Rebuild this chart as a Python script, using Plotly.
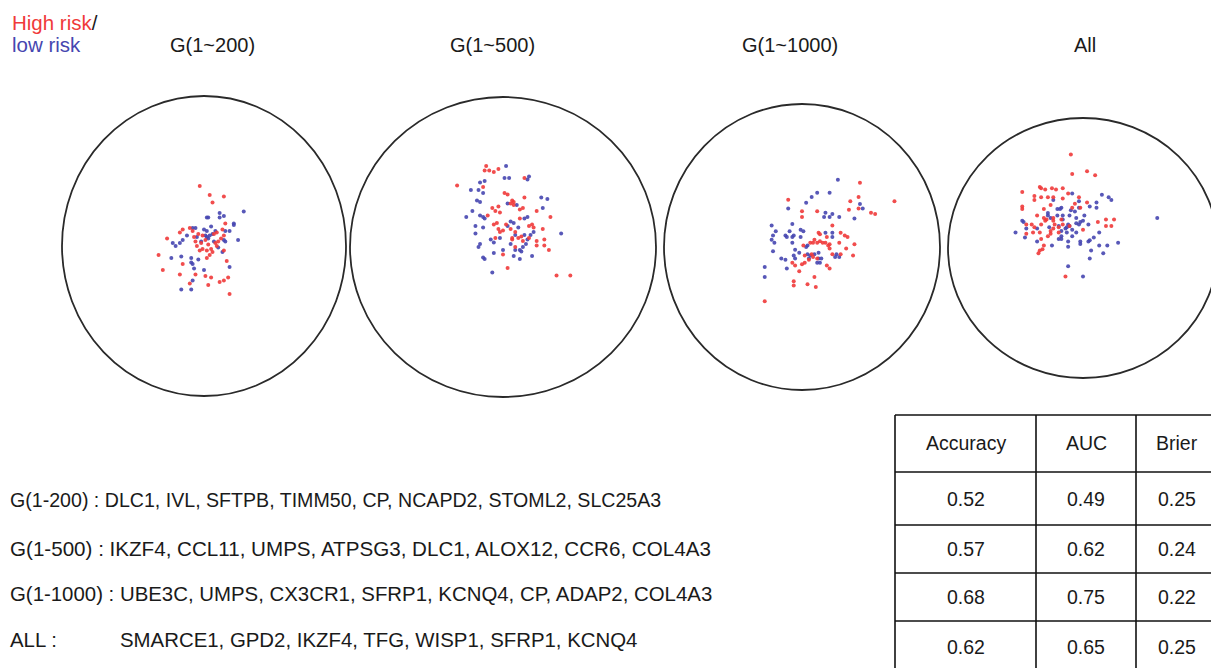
import plotly.graph_objects as go

# ---------------- data ----------------
panel_titles = ["G(1~200)", "G(1~500)", "G(1~1000)", "All"]

# normalised coordinates inside each circle (circle radius = 1)
p1_high_x = [-0.03,0.04,0.14,0.06,-0.26,-0.32,-0.29,-0.15,-0.17,-0.10,-0.06,0.01,0.05,0.03,0.11,0.14,0.17,0.18,0.16,0.02,-0.15,-0.10,-0.08,-0.07,-0.06,-0.05,-0.03,-0.01,-0.02,0.01,0.03,0.05,0.02,0.06,0.07,0.09,0.12,0.14,0.13,0.15,0.10,0.09,0.08,0.14,-0.01,-0.04,-0.17,0.04]
p1_high_y = [0.40,0.34,0.33,0.29,0.05,-0.06,-0.16,-0.12,-0.19,-0.25,-0.19,-0.20,-0.21,-0.26,-0.24,-0.23,-0.21,-0.32,-0.10,-0.08,0.11,0.12,0.10,0.06,0.03,0.00,-0.03,-0.02,0.02,0.04,0.01,-0.02,-0.03,-0.04,0.08,0.09,0.05,0.07,0.11,0.15,0.03,0.00,0.02,-0.03,0.07,0.08,0.09,-0.06]
p1_low_x = [0.28,0.11,0.14,0.11,0.02,0.03,0.05,0.21,0.21,0.00,-0.08,-0.06,0.01,0.02,0.03,0.04,0.06,0.08,0.15,0.18,0.14,0.15,0.24,-0.22,-0.20,-0.17,-0.15,-0.23,-0.16,-0.09,-0.09,-0.08,-0.04,-0.07,0.00,0.18,-0.08,-0.16,-0.09,0.10,0.13,0.07,-0.02,-0.05,-0.12,0.02]
p1_low_y = [0.23,0.22,0.20,0.19,0.19,0.19,0.13,0.15,0.14,0.11,0.12,0.12,0.07,0.06,0.05,0.07,0.08,0.10,0.10,0.10,0.04,0.03,0.04,0.02,0.00,0.02,0.04,-0.08,-0.07,-0.08,-0.11,-0.12,-0.09,-0.15,-0.16,-0.14,-0.23,-0.29,-0.29,-0.01,-0.04,0.03,0.03,0.06,0.07,0.10]

p2_high_x = [-0.11,-0.12,-0.09,-0.06,-0.03,-0.30,-0.13,0.14,0.01,0.03,0.14,0.06,0.07,0.05,0.07,-0.03,-0.07,-0.05,-0.02,0.11,0.13,0.22,-0.10,0.31,0.11,-0.04,-0.06,0.02,-0.03,-0.02,0.00,0.05,0.08,0.17,0.19,0.20,0.26,0.06,0.06,0.10,0.12,0.08,0.13,0.17,0.22,0.27,0.22,0.27,0.30,-0.05,0.00,0.03,0.35,0.44]
p2_high_y = [0.54,0.51,0.51,0.50,0.52,0.41,0.40,0.46,0.36,0.35,0.33,0.31,0.30,0.29,0.28,0.27,0.26,0.24,0.23,0.25,0.26,0.24,0.21,0.20,0.19,0.16,0.15,0.15,0.12,0.10,0.11,0.12,0.10,0.14,0.15,0.13,0.12,0.06,0.05,0.06,0.07,0.00,0.04,0.06,0.04,0.05,0.01,0.01,-0.02,0.06,-0.05,-0.14,-0.19,-0.19]
p2_low_x = [0.02,0.01,0.04,0.16,0.17,-0.15,-0.12,-0.21,-0.16,-0.13,-0.17,-0.15,0.03,0.09,0.25,0.29,0.26,-0.20,-0.24,-0.15,-0.13,-0.12,0.05,0.07,0.14,0.16,-0.18,-0.13,0.03,0.10,0.20,0.18,-0.18,-0.08,-0.06,-0.02,0.08,0.14,0.16,0.15,0.13,0.12,0.11,-0.15,-0.16,0.05,0.08,0.00,-0.06,0.07,0.11,0.19,0.38,-0.13,-0.12,-0.07]
p2_low_y = [0.54,0.46,0.46,0.45,0.47,0.43,0.44,0.38,0.38,0.36,0.31,0.30,0.29,0.28,0.33,0.32,0.26,0.24,0.20,0.21,0.20,0.19,0.17,0.16,0.19,0.20,0.14,0.13,0.14,0.13,0.10,0.08,0.09,0.05,0.03,0.06,0.08,0.08,0.05,0.02,0.00,-0.03,-0.02,0.02,0.00,0.02,-0.02,-0.02,-0.04,-0.06,-0.08,-0.06,0.09,-0.07,-0.08,-0.17]

p3_high_x = [0.42,0.35,0.41,0.41,0.67,0.50,0.53,0.34,-0.10,0.00,0.00,0.11,0.22,0.12,0.13,0.09,0.06,0.08,0.11,0.13,0.15,0.17,0.19,0.20,0.18,0.28,0.31,0.33,0.27,0.38,0.32,0.20,0.22,0.28,0.37,0.01,0.02,0.07,0.08,0.11,0.05,0.02,0.00,-0.07,-0.05,0.18,0.20,-0.02,0.09,-0.06,-0.06,0.04,0.10,-0.27]
p3_high_y = [0.45,0.32,0.35,0.27,0.32,0.24,0.23,0.26,0.33,0.25,0.21,0.25,0.15,0.10,0.09,0.05,0.03,0.03,0.03,0.04,0.03,0.03,0.01,0.02,0.07,0.10,0.08,0.07,0.03,0.02,-0.01,-0.01,-0.05,-0.05,-0.06,0.01,-0.06,-0.05,-0.07,-0.08,-0.09,-0.11,-0.12,-0.11,-0.13,-0.13,-0.15,-0.17,-0.21,-0.24,-0.27,-0.26,-0.28,-0.38]
p3_low_x = [0.26,0.20,0.11,0.07,0.03,-0.10,0.42,0.44,0.17,0.22,0.16,0.20,0.27,0.38,-0.07,-0.22,-0.19,-0.09,-0.01,0.01,-0.21,-0.12,-0.11,-0.07,-0.06,-0.01,0.17,0.22,0.22,-0.22,-0.20,-0.07,-0.05,-0.02,-0.21,0.04,0.03,0.04,0.06,0.09,0.12,0.05,0.12,0.14,-0.06,-0.05,0.25,0.27,0.24,-0.15,-0.12,-0.11,-0.27,-0.27,0.11,0.13]
p3_low_y = [0.47,0.38,0.38,0.35,0.31,0.27,0.30,0.27,0.24,0.23,0.21,0.21,0.21,0.20,0.16,0.15,0.11,0.11,0.12,0.11,0.08,0.08,0.07,0.07,0.08,0.07,0.10,0.10,0.07,0.05,0.03,0.03,-0.02,-0.04,-0.03,0.01,0.00,-0.05,-0.06,-0.05,-0.04,-0.08,-0.08,-0.08,-0.06,-0.08,-0.05,-0.07,-0.07,-0.08,-0.09,-0.15,-0.14,-0.21,-0.11,-0.11]

p4_high_x = [-0.09,-0.08,0.03,0.09,-0.45,-0.32,-0.31,-0.28,-0.23,-0.20,-0.15,-0.36,-0.36,-0.31,-0.26,-0.22,-0.15,-0.11,-0.03,-0.06,0.03,-0.45,-0.45,-0.29,-0.24,-0.34,-0.29,-0.27,-0.22,-0.16,-0.08,-0.02,-0.42,-0.38,-0.36,-0.31,-0.28,-0.22,-0.21,-0.18,-0.22,-0.24,-0.18,-0.15,-0.10,0.00,0.11,0.17,0.23,0.17,0.21,-0.42,-0.37,-0.32,-0.26,-0.24,-0.31,-0.29,-0.30,-0.32,-0.33,-0.13]
p4_high_y = [0.72,0.57,0.59,0.56,0.43,0.47,0.46,0.45,0.46,0.45,0.46,0.40,0.37,0.39,0.39,0.39,0.38,0.42,0.39,0.34,0.35,0.32,0.30,0.30,0.33,0.25,0.23,0.22,0.23,0.22,0.31,0.31,0.18,0.18,0.16,0.18,0.21,0.21,0.18,0.16,0.15,0.13,0.12,0.18,0.17,0.14,0.20,0.22,0.22,0.17,0.17,0.11,0.12,0.12,0.09,0.11,0.07,0.02,-0.01,-0.02,-0.04,-0.22]
p4_low_x = [-0.08,-0.22,-0.03,-0.03,0.10,0.05,0.10,0.14,0.19,0.21,-0.19,-0.17,-0.16,-0.09,-0.06,-0.10,-0.26,-0.26,-0.24,-0.19,-0.15,-0.15,-0.05,0.01,-0.02,-0.05,-0.03,0.00,0.04,-0.11,-0.10,-0.12,-0.13,-0.08,-0.45,-0.44,-0.50,-0.42,-0.34,-0.25,-0.18,-0.16,-0.12,-0.16,-0.08,-0.05,0.12,0.08,-0.43,-0.34,-0.18,-0.16,-0.11,-0.02,0.04,0.05,-0.23,-0.11,-0.02,0.06,0.12,0.18,0.26,0.15,0.55,0.05,-0.11,0.00]
p4_low_y = [0.42,0.37,0.36,0.31,0.35,0.32,0.31,0.41,0.39,0.37,0.30,0.30,0.31,0.29,0.28,0.25,0.27,0.25,0.23,0.25,0.25,0.22,0.23,0.25,0.20,0.19,0.18,0.21,0.18,0.18,0.17,0.16,0.15,0.14,0.21,0.20,0.12,0.15,0.15,0.16,0.17,0.13,0.12,0.09,0.09,0.12,0.12,0.08,0.08,0.05,0.07,0.07,0.05,0.05,0.05,0.06,0.02,0.01,0.03,-0.02,0.02,0.02,0.04,-0.04,0.23,-0.08,-0.14,-0.22]

gene_set_labels = ["G(1-200) :", "G(1-500) :", "G(1-1000) :", "ALL :"]
gene_lists = [
    "DLC1, IVL, SFTPB, TIMM50, CP, NCAPD2, STOML2, SLC25A3",
    "IKZF4, CCL11, UMPS, ATPSG3, DLC1, ALOX12, CCR6, COL4A3",
    "UBE3C, UMPS, CX3CR1, SFRP1, KCNQ4, CP, ADAP2, COL4A3",
    "SMARCE1, GPD2, IKZF4, TFG, WISP1, SFRP1, KCNQ4",
]

table_header = ["Accuracy", "AUC", "Brier"]
accuracy = ["0.52", "0.57", "0.68", "0.62"]
auc = ["0.49", "0.62", "0.75", "0.65"]
brier = ["0.25", "0.24", "0.22", "0.25"]

# ---------------- layout constants ----------------
OFF = 8                      # page body margin of the browser
W, H = 1219 - OFF, 668 - OFF
FONT = "Liberation Sans, Arial, Helvetica, sans-serif"
TXT = "#1a1a1a"
RED = "#f03a3a"
BLUE = "#4646b0"
# circle centre / radii in page pixels (cx, cy, rx, ry)
circles = [(204, 246, 142, 150), (503, 247, 153, 150), (802, 247, 138, 143), (1083, 248, 135, 130)]
title_x = [212, 492, 790, 1085]
title_y = 45
PAD = 1.05


def px(x):
    return (x - OFF) / W


def py(y):
    return 1 - (y - OFF) / H


panels = [
    (p1_high_x, p1_high_y, p1_low_x, p1_low_y),
    (p2_high_x, p2_high_y, p2_low_x, p2_low_y),
    (p3_high_x, p3_high_y, p3_low_x, p3_low_y),
    (p4_high_x, p4_high_y, p4_low_x, p4_low_y),
]

fig = go.Figure()
shapes = []
annotations = []
layout_axes = {}

for i, ((hx, hy, lx, ly), (cx, cy, rx, ry)) in enumerate(zip(panels, circles)):
    sfx = "" if i == 0 else str(i + 1)
    x0p = max(OFF, cx - rx * PAD); x1p = min(OFF + W, cx + rx * PAD)
    y0p = max(OFF, cy - ry * PAD); y1p = min(OFF + H, cy + ry * PAD)
    xdom = [px(x0p), px(x1p)]
    ydom = [py(y1p), py(y0p)]
    xr = [(x0p - cx) / rx, (x1p - cx) / rx]
    yr = [(cy - y1p) / ry, (cy - y0p) / ry]
    layout_axes["xaxis" + sfx] = dict(domain=xdom, range=xr, visible=False, fixedrange=True,
                                      anchor="y" + sfx)
    layout_axes["yaxis" + sfx] = dict(domain=ydom, range=yr, visible=False, fixedrange=True,
                                      anchor="x" + sfx)
    shapes.append(dict(type="circle", xref="x" + sfx, yref="y" + sfx, x0=-1, x1=1, y0=-1, y1=1,
                       line=dict(color="#2a2a2a", width=1.8), layer="below"))
    fig.add_trace(go.Scatter(x=lx, y=ly, mode="markers", xaxis="x" + sfx, yaxis="y" + sfx,
                             marker=dict(color=BLUE, size=4, opacity=0.9, line=dict(width=0)),
                             showlegend=False, hoverinfo="skip"))
    fig.add_trace(go.Scatter(x=hx, y=hy, mode="markers", xaxis="x" + sfx, yaxis="y" + sfx,
                             marker=dict(color=RED, size=4, opacity=0.9, line=dict(width=0)),
                             showlegend=False, hoverinfo="skip"))
    annotations.append(dict(text=panel_titles[i], x=px(title_x[i]), y=py(title_y),
                            xref="paper", yref="paper", showarrow=False, xanchor="center",
                            yanchor="middle", font=dict(family=FONT, size=20, color=TXT)))

# legend-like label
annotations.append(dict(text=f"<span style='color:{RED}'>High risk</span>/", x=px(10), y=py(22),
                        xref="paper", yref="paper", showarrow=False, xanchor="left", yanchor="middle",
                        font=dict(family=FONT, size=20.5, color=TXT)))
annotations.append(dict(text="low risk", x=px(10), y=py(45),
                        xref="paper", yref="paper", showarrow=False, xanchor="left", yanchor="middle",
                        font=dict(family=FONT, size=20.5, color=BLUE)))

# gene lists
gene_y = [500, 548, 594, 640]
gene_font = [19.6, 20.6, 20.4, 20.4]
for lab, genes, gy, gf in zip(gene_set_labels, gene_lists, gene_y, gene_font):
    if lab.startswith("ALL"):
        annotations.append(dict(text=lab, x=px(8), y=py(gy), xref="paper", yref="paper",
                                showarrow=False, xanchor="left", yanchor="middle",
                                font=dict(family=FONT, size=gf, color=TXT)))
        annotations.append(dict(text=genes, x=px(118), y=py(gy), xref="paper", yref="paper",
                                showarrow=False, xanchor="left", yanchor="middle",
                                font=dict(family=FONT, size=gf, color=TXT)))
    else:
        annotations.append(dict(text=lab + " " + genes, x=px(8), y=py(gy), xref="paper",
                                yref="paper", showarrow=False, xanchor="left", yanchor="middle",
                                font=dict(family=FONT, size=gf, color=TXT)))

# table
col_edges = [895, 1036, 1136, 1221]
row_edges = [415, 472, 525, 573, 621, 672]
columns = [accuracy, auc, brier]
for xe in col_edges[:-1]:
    shapes.append(dict(type="line", xref="paper", yref="paper", x0=px(xe), x1=px(xe),
                       y0=py(row_edges[0]), y1=0, line=dict(color="#111", width=1.6)))
for ye in row_edges[:-1]:
    shapes.append(dict(type="line", xref="paper", yref="paper", x0=px(col_edges[0]), x1=1,
                       y0=py(ye), y1=py(ye), line=dict(color="#111", width=1.6)))
for c in range(3):
    xc = (col_edges[c] + col_edges[c + 1]) / 2 - (2 if c == 2 else 0)
    cells = [table_header[c]] + columns[c]
    for r, txt in enumerate(cells):
        yc = (row_edges[r] + row_edges[r + 1]) / 2
        annotations.append(dict(text=txt, x=px(xc), y=py(yc), xref="paper", yref="paper",
                                showarrow=False, xanchor="center", yanchor="middle",
                                font=dict(family=FONT, size=19.5, color=TXT)))

fig.update_layout(width=W, height=H, margin=dict(l=0, r=0, t=0, b=0),
                  paper_bgcolor="white", plot_bgcolor="rgba(0,0,0,0)",
                  shapes=shapes, annotations=annotations, showlegend=False, **layout_axes)

fig.write_html("out.html")
